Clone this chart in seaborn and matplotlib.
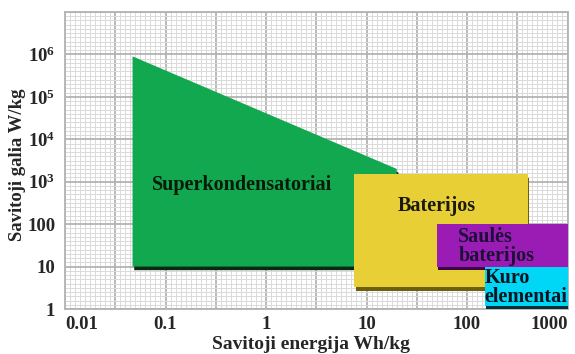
import matplotlib
matplotlib.use("Agg")
import matplotlib.pyplot as plt
import matplotlib.transforms as mtransforms
import seaborn as sns

# Axis ticks and labels
x_ticks = [0.01, 0.1, 1, 10, 100, 1000]
x_tick_labels = ["0.01", "0.1", "1", "10", "100", "1000"]
y_ticks = [1, 10, 100, 1e3, 1e4, 1e5, 1e6]
y_tick_labels = ["1", "10", "100", r"$\mathbf{10^{3}}$", r"$\mathbf{10^{4}}$",
                 r"$\mathbf{10^{5}}$", r"$\mathbf{10^{6}}$"]

# Regions: specific energy (Wh/kg) vs specific power (W/kg)
supercap_energy = [0.047, 0.047, 20, 20]
supercap_power = [10, 9e5, 2000, 10]
battery_energy = [7.5, 400]
battery_power = [3.3, 1500]
solar_energy = [50, 1000]
solar_power = [10, 100]
fuel_energy = [150, 1000]
fuel_power = [1.15, 10]

sns.set_theme(style="white")
plt.rcParams["font.family"] = ["Liberation Serif", "DejaVu Serif"]
plt.rcParams["font.weight"] = "bold"
plt.rcParams["mathtext.fontset"] = "custom"
plt.rcParams["mathtext.rm"] = "Liberation Serif:bold"
plt.rcParams["mathtext.bf"] = "Liberation Serif:bold"
plt.rcParams["mathtext.it"] = "Liberation Serif:bold"

fig = plt.figure(figsize=(5.75, 3.54), dpi=100)
ax = fig.add_axes([65 / 575, 1 - 309 / 354, 502.5 / 575, 297 / 354])
ax.set_xscale("log")
ax.set_yscale("log")
ax.set_xlim(0.01, 1000)
ax.set_ylim(1, 1e7)

# Graph-paper background
minor_c, major_c = "#dadada", "#b3b3b3"
for i in range(0, 101):
    v = 10 ** (-2 + i * 0.05)
    major = i % 10 == 0
    ax.axvline(v, color=major_c if major else minor_c,
               lw=1.3 if major else 0.7, zorder=0)
for j in range(0, 71):
    v = 10 ** (j * 0.1)
    major = j % 10 == 0
    ax.axhline(v, color=major_c if major else minor_c,
               lw=1.3 if major else 0.7, zorder=0)
ax.grid(False)
for s in ax.spines.values():
    s.set_color(major_c)
    s.set_linewidth(1.3)


def rect(e, p):
    return [e[0], e[1], e[1], e[0]], [p[0], p[0], p[1], p[1]]


def bevel_fill(xs, ys, face, dark, z):
    shadow = ax.transData + mtransforms.ScaledTranslation(1.2 / 72, -2.6 / 72,
                                                           fig.dpi_scale_trans)
    ax.fill(xs, ys, color=dark, transform=shadow, zorder=z, lw=0)
    ax.fill(xs, ys, color=face, zorder=z + 0.1, lw=0)


bevel_fill(supercap_energy, supercap_power, "#12a84f", "#062b12", 2)
bevel_fill(*rect(battery_energy, battery_power), "#e8cf35", "#6e5f0c", 3)
bevel_fill(*rect(solar_energy, solar_power), "#9a1cb4", "#3c0748", 4)
bevel_fill(*rect(fuel_energy, fuel_power), "#00d6f5", "#04303a", 5)

lab_kw = dict(fontsize=14.5, fontweight="bold", zorder=10)
ax.text(0.575, 830, "Superkondensatoriai", ha="center", va="center",
        color="#0a1a0a", **lab_kw)
ax.text(50, 265, "Baterijos", ha="center", va="center", color="#1a1a10", **lab_kw)
ax.text(82, 30, "Saulės\nbaterijos", ha="left", va="center", color="#1c1038",
        linespacing=0.95, **lab_kw)
ax.text(150, 3.2, "Kuro\nelementai", ha="left", va="center", color="#0a1420",
        linespacing=0.95, **lab_kw)

ax.set_xticks(x_ticks)
ax.set_xticklabels(x_tick_labels)
ax.set_yticks(y_ticks)
ax.set_yticklabels(y_tick_labels)
ax.minorticks_off()
ax.tick_params(axis="both", length=0, labelsize=13.5)
ax.tick_params(axis="x", pad=5)
ax.tick_params(axis="y", pad=7)
for t in ax.get_xticklabels():
    t.set_fontweight("bold")
for t in ax.get_yticklabels():
    t.set_fontweight("bold")
xl = ax.get_xticklabels()
xl[0].set_ha("left")
xl[-1].set_ha("right")

ax.set_xlabel("Savitoji energija Wh/kg", fontsize=14, fontweight="bold")
ax.set_ylabel("Savitoji galia W/kg", fontsize=13.5, fontweight="bold")
ax.xaxis.set_label_coords(0.49, -0.092)
ax.yaxis.set_label_coords(-0.078, 0.485)

fig.savefig("out.png", dpi=100)
